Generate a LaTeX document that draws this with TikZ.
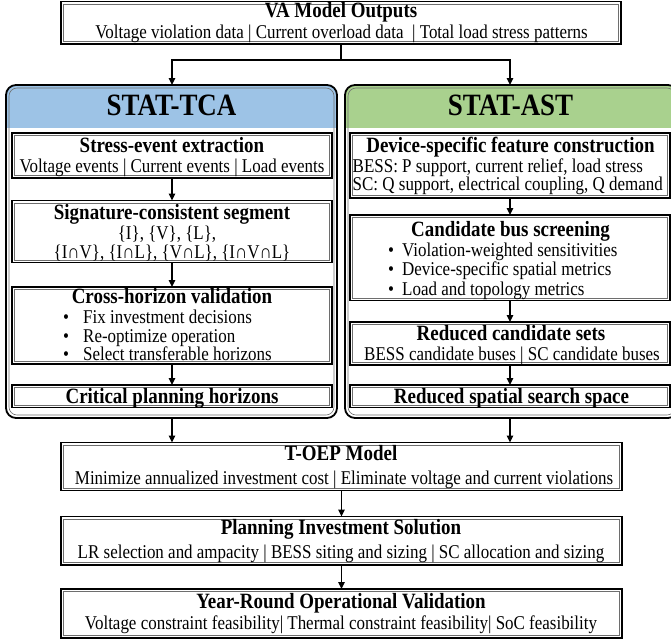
\documentclass[tikz,border=0pt]{standalone}
\usepackage{fontspec}
\setmainfont{Liberation Serif}[FakeStretch=0.87]
\usetikzlibrary{arrows.meta,calc}
\definecolor{hdrblue}{RGB}{157,195,230}
\definecolor{hdrgreen}{RGB}{169,209,142}
\definecolor{inngray}{RGB}{110,110,110}
\tikzset{
  box/.style={draw=black, line width=1.4pt, inner sep=0pt, outer sep=0pt},
  panel/.style={draw=black, line width=1.8pt, rounded corners=10pt, inner sep=0pt, outer sep=0pt},
  inl/.style={draw=inngray, line width=0.6pt},
  ttl/.style={font=\fontsize{21.8}{24}\selectfont\bfseries, inner sep=0pt, anchor=base},
  txt/.style={font=\fontsize{19.5}{22}\selectfont, inner sep=0pt, anchor=base},
  txtw/.style={font=\fontsize{19.5}{22}\selectfont, inner sep=0pt, anchor=base west},
  hdr/.style={font=\fontsize{31}{34}\selectfont\bfseries, inner sep=0pt, anchor=base},
  arr/.style={-{Triangle[length=7pt,width=6.5pt]}, line width=1.4pt}
}
\newcommand\bx[5]{%
  \node[box, minimum width={#4-#2}, minimum height={#5-#3}] (#1) at ({(#2+#4)/2},{(#3+#5)/2}) {};
  \draw[inl] ($(#1.north west)+(2.4,2.4)$) rectangle ($(#1.south east)+(-2.4,-2.4)$);}
\begin{document}
\begin{tikzpicture}[x=1pt,y=-1pt]
\useasboundingbox (0,0) rectangle (671,643);
% panels: header fills
\begin{scope}
  \clip[rounded corners=10pt] (6,85) rectangle (337,418);
  \fill[hdrblue] (6,85) rectangle (337,127.5);
\end{scope}
\begin{scope}
  \clip[rounded corners=10pt] (345,85) rectangle (678,418);
  \fill[hdrgreen] (345,85) rectangle (678,127.5);
\end{scope}
\node[panel, minimum width=331, minimum height=333] (pL) at (171.5,251.5) {};
\node[panel, minimum width=333, minimum height=333] (pR) at (511.5,251.5) {};
\draw[inl, rounded corners=8pt] (9,88) rectangle (334,415);
\draw[inl, rounded corners=8pt] (348,88) rectangle (675,415);
\node[hdr] (hL) at (171.5,115) {STAT-TCA};
\node[hdr] (hR) at (510.5,115) {STAT-AST};

% top box
\bx{top}{61}{1.5}{621}{44}
\node[ttl] (topT) at (341,17.5) {VA Model Outputs};
\node[txt] (topS) at (341.5,38.3) {Voltage violation data | Current overload data \ | Total load stress patterns};

% left column
\bx{a1}{12}{133}{332}{178}
\node[ttl] (a1T) at (172,152.7) {Stress-event extraction};
\node[txt] (a1S) at (172,172.7) {Voltage events | Current events | Load events};

\bx{a2}{12}{200.5}{332}{262.5}
\node[ttl] (a2T) at (172,219.3) {Signature-consistent segment};
\node[txt] (a2S) at (167,239.3) {\{I\}, \{V\}, \{L\},};
\node[txt] (a2U) at (172,258.3) {\{I∩V\}, \{I∩L\}, \{V∩L\}, \{I∩V∩L\}};

\bx{a3}{12}{287}{332}{364}
\node[ttl] (a3T) at (172,303.3) {Cross-horizon validation};
\node[txtw] (a3b1) at (63,323.3) {•};
\node[txtw] (a3b2) at (63,342.7) {•};
\node[txtw] (a3b3) at (63,360.7) {•};
\node[txtw] (a3l1) at (83,323.3) {Fix investment decisions};
\node[txtw] (a3l2) at (83,342.7) {Re-optimize operation};
\node[txtw] (a3l3) at (83,360.7) {Select transferable horizons};

\bx{a4}{12}{385}{332}{407.5}
\node[ttl] (a4T) at (172,403) {Critical planning horizons};

% right column
\bx{b1}{350}{133}{670}{198}
\node[ttl] (b1T) at (510.5,152.7) {Device-specific feature construction};
\node[txtw] (b1l1) at (352.5,172.7) {BESS: P support, current relief, load stress};
\node[txtw] (b1l2) at (352.5,190.7) {SC: Q support, electrical coupling, Q demand};

\bx{b2}{350}{215}{670}{300.5}
\node[ttl] (b2T) at (510.5,236.7) {Candidate bus screening};
\node[txtw] (b2b1) at (388,256) {•};
\node[txtw] (b2b2) at (388,275) {•};
\node[txtw] (b2b3) at (388,295) {•};
\node[txtw] (b2l1) at (402,256) {Violation-weighted sensitivities};
\node[txtw] (b2l2) at (402,275) {Device-specific spatial metrics};
\node[txtw] (b2l3) at (402,295) {Load and topology metrics};

\bx{b3}{350}{322}{670}{365}
\node[ttl] (b3T) at (511,340) {Reduced candidate sets};
\node[txt] (b3S) at (512,360) {BESS candidate buses | SC candidate buses};

\bx{b4}{350}{385}{670}{407.5}
\node[ttl] (b4T) at (511.5,403) {Reduced spatial search space};

% bottom boxes
\bx{toep}{61}{442.5}{622}{490.5}
\node[ttl] (toepT) at (341,460.7) {T-OEP Model};
\node[txt] (toepS) at (344,484) {Minimize annualized investment cost | Eliminate voltage and current violations};

\bx{plan}{61}{516.5}{622}{565}
\node[ttl] (planT) at (341,534) {Planning Investment Solution};
\node[txt] (planS) at (341,558.3) {LR selection and ampacity | BESS siting and sizing | SC allocation and sizing};

\bx{year}{61}{589}{622}{638}
\node[ttl] (yearT) at (341,608.3) {Year-Round Operational Validation};
\node[txt] (yearS) at (341,629.3) {Voltage constraint feasibility| Thermal constraint feasibility| SoC feasibility};

% connectors
\coordinate (split) at ($(top.south)+(0,16)$);
\draw[line width=1.4pt] (top.south) -- (split);
\draw[arr] (split) -| (a1.north |- pL.north);
\draw[arr] (split) -| (b1.north |- pR.north);
\draw[arr] (a1) -- (a2);
\draw[arr] (a2) -- (a3);
\draw[arr] (a3) -- (a4);
\draw[arr] (b1) -- (b2);
\draw[arr] (b2) -- (b3);
\draw[arr] (b3) -- (b4);
\draw[arr] (a4.south |- pL.south) -- (a4.south |- toep.north);
\draw[arr] (b4.south |- pR.south) -- (b4.south |- toep.north);
\draw[arr] (toep) -- (plan);
\draw[arr] (plan) -- (year);
\end{tikzpicture}
\end{document}
